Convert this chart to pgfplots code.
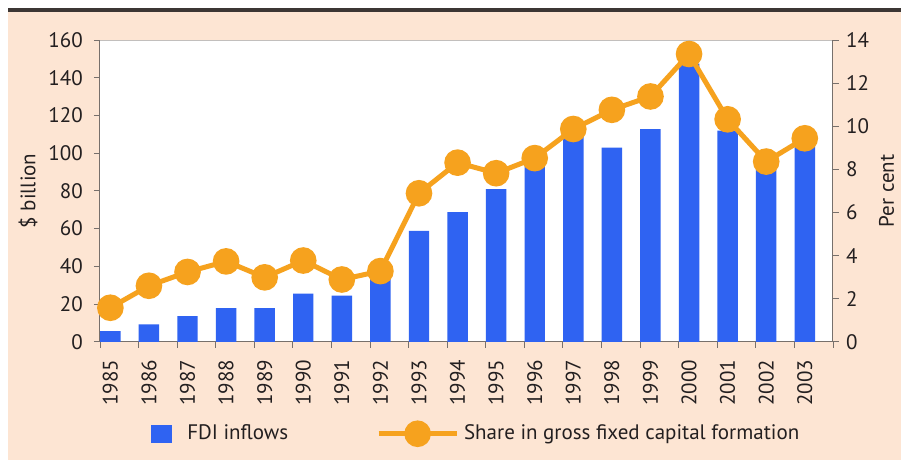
\documentclass[border=0pt]{standalone}
\usepackage{pgfplots}
\pgfplotsset{compat=1.18}
\usepackage{pgfplotstable}
\usepackage{fontspec}
\setmainfont{PT Sans}
\definecolor{fdiblue}{HTML}{2F63F2}
\definecolor{shareorange}{HTML}{F6A21E}
\definecolor{peach}{HTML}{FDE5D3}
\definecolor{darkbar}{HTML}{3C3634}
\definecolor{axgray}{HTML}{77706C}
\definecolor{txt}{HTML}{231F20}
\pgfplotstableread{
x year fdi share
0 1985 5.6 1.58
1 1986 9.2 2.60
2 1987 13.6 3.24
3 1988 17.8 3.73
4 1989 17.8 2.99
5 1990 25.5 3.77
6 1991 24.5 2.89
7 1992 33.5 3.28
8 1993 58.8 6.89
9 1994 68.7 8.31
10 1995 80.9 7.82
11 1996 93.5 8.52
12 1997 110.0 9.87
13 1998 102.9 10.76
14 1999 112.8 11.38
15 2000 147.5 13.35
16 2001 112.0 10.32
17 2002 95.5 8.36
18 2003 105.0 9.44
}\datatable
\pgfplotsset{
  common/.style={
    at={(100pt,118pt)}, anchor=south west,
    scale only axis, width=733.4pt, height=302pt,
    xmin=-0.27, xmax=18.73,
    font=\fontsize{21}{25}\selectfont,
    /pgf/number format/assume math mode=true,
    tick align=outside,
    major tick length=6pt, minor tick length=6pt,
    tick style={color=axgray, line width=0.8pt},
    axis line style={color=axgray, line width=1pt},
    ticklabel style={color=txt},
    label style={color=txt},
  }
}
\begin{document}
\fontsize{21}{25}\selectfont
\begin{tikzpicture}[x=1pt,y=1pt]
\fill[white] (0,0) rectangle (901,460);
\fill[peach] (8,0) rectangle (901,448);
\fill[darkbar] (8,448) rectangle (901,451.5);
\begin{axis}[common,
  axis background/.style={fill=white},
  axis x line*=bottom, axis y line*=left,
  ymin=0, ymax=160, ytick={0,20,...,160},
  xtick={0,...,18},
  xticklabels={1985,1986,1987,1988,1989,1990,1991,1992,1993,1994,1995,1996,1997,1998,1999,2000,2001,2002,2003},
  major x tick style={draw=none},
  minor xtick={-0.27,0.73,...,18.73},
  xticklabel style={rotate=90, anchor=east},
  xticklabel shift=5pt,
  yticklabel shift=4pt,
  ylabel={\$ billion},
  ylabel style={at={(axis description cs:-0.098,0.5)}, anchor=center},
]
\addplot[ybar, bar width=0.53, fill=fdiblue, draw=none] table[x=x,y=fdi]{\datatable};
\draw[color=axgray!45, line width=0.8pt] (rel axis cs:0,1) -- (rel axis cs:1,1);
\end{axis}
\begin{axis}[common,
  axis y line*=right, axis x line=none,
  ymin=0, ymax=14, ytick={0,2,...,14},
  ylabel={Per cent},
  ylabel style={at={(axis description cs:1.073,0.5)}, anchor=center},
  clip=false,
  legend columns=2,
  legend style={at={(axis description cs:0.0695,-0.3046)}, anchor=west,
    draw=none, fill=none, inner sep=0pt, outer sep=0pt,
    nodes={inner sep=0pt, text=txt},
    /tikz/column 1/.style={column sep=16pt},
    /tikz/column 2/.style={column sep=88pt},
    /tikz/column 3/.style={column sep=5pt}},
]
\addlegendimage{legend image code/.code={\fill[fdiblue] (0pt,-8.5pt) rectangle (20pt,8.5pt);}}
\addlegendentry{FDI inflows}
\addplot[color=shareorange, line width=5pt, mark=*, mark size=10.8pt,
  mark options={solid, fill=shareorange, draw=none},
  legend image code/.code={\draw[mark repeat=2, mark phase=2] plot coordinates {(0pt,0pt) (39pt,0pt) (78pt,0pt)};}]
  table[x=x,y=share]{\datatable};
\addlegendentry{Share in gross fixed capital formation}
\end{axis}
\end{tikzpicture}
\end{document}
